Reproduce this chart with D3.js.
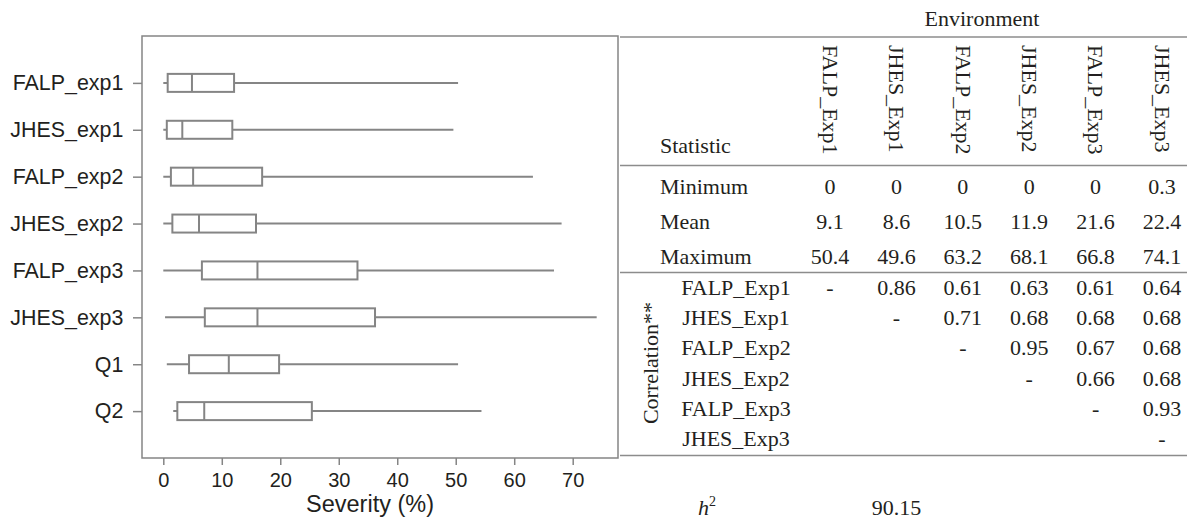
<!DOCTYPE html>
<html>
<head>
<meta charset="utf-8">
<script src="https://cdn.jsdelivr.net/npm/d3@7"></script>
<style>
  body { margin: 0; background: #fff; }
  svg { display: block; }
</style>
</head>
<body>
<div id="chart"></div>
<script>
// boxplot data (severity %)
const groups = ["FALP_exp1", "JHES_exp1", "FALP_exp2", "JHES_exp2", "FALP_exp3", "JHES_exp3", "Q1", "Q2"];
const mins = [0, 0, 0, 0, 0, 0.3, 0.6, 1.7];
const q1s = [0.75, 0.6, 1.3, 1.55, 6.6, 7.1, 4.4, 2.4];
const medians = [4.9, 3.25, 5.1, 6.1, 16.1, 16.1, 11.2, 7.0];
const q3s = [12.1, 11.8, 16.9, 15.85, 33.2, 36.2, 19.8, 25.4];
const maxs = [50.4, 49.6, 63.2, 68.1, 66.8, 74.1, 50.4, 54.4];
const xTicks = [0, 10, 20, 30, 40, 50, 60, 70];

// table data
const envs = ["FALP_Exp1", "JHES_Exp1", "FALP_Exp2", "JHES_Exp2", "FALP_Exp3", "JHES_Exp3"];
const statNames = ["Minimum", "Mean", "Maximum"];
const statMin = [0, 0, 0, 0, 0, 0.3];
const statMean = [9.1, 8.6, 10.5, 11.9, 21.6, 22.4];
const statMax = [50.4, 49.6, 63.2, 68.1, 66.8, 74.1];
const corrFALP1 = [null, 0.86, 0.61, 0.63, 0.61, 0.64];
const corrJHES1 = [null, null, 0.71, 0.68, 0.68, 0.68];
const corrFALP2 = [null, null, null, 0.95, 0.67, 0.68];
const corrJHES2 = [null, null, null, null, 0.66, 0.68];
const corrFALP3 = [null, null, null, null, null, 0.93];
const corrJHES3 = [null, null, null, null, null, null];
const h2Value = "90.15";

const W = 1187, H = 525;
const grey = "#858585";
const sans = "'Liberation Sans', Arial, sans-serif";
const serif = "'Liberation Serif', 'Times New Roman', serif";
const ink = "#231f20";

const svg = d3.select("#chart").append("svg")
  .attr("width", W)
  .attr("height", H);

// ---- boxplot ----
const frame = {left: 142, top: 36, right: 618, bottom: 458};

const x = d3.scaleLinear().domain([0, 70]).range([163.3, 572.7]);
const y = d3.scalePoint().domain(groups).range([frame.top, frame.bottom]).padding(1);

const boxes = groups.map((g, i) => ({
  name: g, min: mins[i], q1: q1s[i], med: medians[i], q3: q3s[i], max: maxs[i]
}));

svg.append("rect")
  .attr("x", frame.left)
  .attr("y", frame.top)
  .attr("width", frame.right - frame.left)
  .attr("height", frame.bottom - frame.top)
  .attr("fill", "none")
  .attr("stroke", grey)
  .attr("stroke-width", 1.5);

const xAxis = svg.append("g")
  .attr("transform", `translate(0,${frame.bottom})`)
  .call(d3.axisBottom(x).tickValues(xTicks).tickSize(7).tickPadding(8));
xAxis.select(".domain").remove();
xAxis.selectAll("line").attr("stroke", grey).attr("stroke-width", 1.5);
xAxis.selectAll("text")
  .attr("font-family", sans)
  .attr("font-size", 20)
  .attr("fill", ink);

const yAxis = svg.append("g")
  .attr("transform", `translate(${frame.left},0)`)
  .call(d3.axisLeft(y).tickSize(9).tickPadding(9.7));
yAxis.select(".domain").remove();
yAxis.selectAll("line").attr("stroke", grey).attr("stroke-width", 1.5);
yAxis.selectAll("text")
  .attr("font-family", sans)
  .attr("font-size", 21.4)
  .attr("fill", ink);

const bh = 18;
const box = svg.append("g")
  .selectAll("g")
  .data(boxes)
  .join("g")
  .attr("transform", d => `translate(0,${y(d.name)})`);

box.append("line")
  .attr("x1", d => x(d.min))
  .attr("x2", d => x(d.max))
  .attr("stroke", grey)
  .attr("stroke-width", 2);

box.append("rect")
  .attr("x", d => x(d.q1))
  .attr("y", -bh / 2)
  .attr("width", d => x(d.q3) - x(d.q1))
  .attr("height", bh)
  .attr("fill", "#fff")
  .attr("stroke", grey)
  .attr("stroke-width", 2);

box.append("line")
  .attr("x1", d => x(d.med))
  .attr("x2", d => x(d.med))
  .attr("y1", -bh / 2)
  .attr("y2", bh / 2)
  .attr("stroke", grey)
  .attr("stroke-width", 2);

svg.append("text")
  .attr("x", 370)
  .attr("y", 512)
  .attr("text-anchor", "middle")
  .attr("font-family", sans)
  .attr("font-size", 23.5)
  .attr("fill", ink)
  .text("Severity (%)");

// ---- table ----
const col = d3.scalePoint().domain(envs).range([830, 1162]);
const statY = d3.scalePoint().domain(statNames).range([194, 264]);
const corrY = d3.scalePoint().domain(envs).range([295, 446]);
const fs = 22;

const table = svg.append("g")
  .attr("font-family", serif)
  .attr("font-size", fs)
  .attr("fill", ink);

// horizontal rules
table.selectAll("line.rule")
  .data([37, 165.5, 272.5, 455.5])
  .join("line")
  .attr("class", "rule")
  .attr("x1", 620)
  .attr("x2", W)
  .attr("y1", d => d)
  .attr("y2", d => d)
  .attr("stroke", "#8c8c8c")
  .attr("stroke-width", 1.3);

table.append("text")
  .attr("x", 982)
  .attr("y", 26)
  .attr("text-anchor", "middle")
  .text("Environment");

table.append("text")
  .attr("x", 660)
  .attr("y", 153)
  .text("Statistic");

// rotated column headers
table.selectAll("text.head")
  .data(envs)
  .join("text")
  .attr("class", "head")
  .attr("transform", d => `translate(${col(d)},45) rotate(90)`)
  .attr("dy", "0.33em")
  .text(d => d);

// statistic rows
const statRows = [statMin, statMean, statMax];
statNames.forEach((name, r) => {
  table.append("text")
    .attr("x", 660)
    .attr("y", statY(name))
    .text(name);
  table.append("g")
    .selectAll("text")
    .data(statRows[r])
    .join("text")
    .attr("x", (d, i) => col(envs[i]))
    .attr("y", statY(name))
    .attr("text-anchor", "middle")
    .text(d => d);
});

// correlation matrix
const corrRows = [corrFALP1, corrJHES1, corrFALP2, corrJHES2, corrFALP3, corrJHES3];
envs.forEach((name, r) => {
  table.append("text")
    .attr("x", 736)
    .attr("y", corrY(name))
    .attr("text-anchor", "middle")
    .text(name);
  table.append("g")
    .selectAll("text")
    .data(corrRows[r].map((v, i) => i === r ? "-" : (v == null ? "" : v.toFixed(2))))
    .join("text")
    .attr("x", (d, i) => col(envs[i]))
    .attr("y", corrY(name))
    .attr("text-anchor", "middle")
    .text(d => d);
});

table.append("text")
  .attr("transform", "translate(658,363) rotate(-90)")
  .attr("text-anchor", "middle")
  .text("Correlation**");

// heritability
const h2 = table.append("text")
  .attr("x", 698)
  .attr("y", 515);
h2.append("tspan").attr("font-style", "italic").text("h");
h2.append("tspan").attr("dy", -9).attr("font-size", 14).text("2");

table.append("text")
  .attr("x", col(envs[1]))
  .attr("y", 515)
  .attr("text-anchor", "middle")
  .text(h2Value);
</script>
</body>
</html>
